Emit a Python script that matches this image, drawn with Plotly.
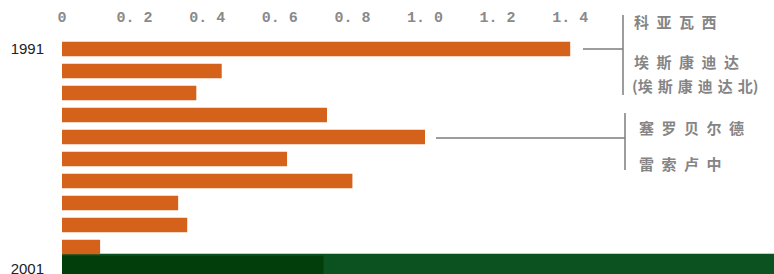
import plotly.graph_objects as go

# ---- data ----
years = ["1991", "1992", "1993", "1994", "1995", "1996", "1997", "1998", "1999", "2000", "2001"]
values = [1.40, 0.44, 0.37, 0.73, 1.00, 0.62, 0.80, 0.32, 0.345, 0.105, 0.72]
x_ticks = [0, 0.2, 0.4, 0.6, 0.8, 1.0, 1.2, 1.4]
x_tick_labels = ["0", "0. 2", "0. 4", "0. 6", "0. 8", "1. 0", "1. 2", "1. 4"]
y_tick_labels = ["1991", "2001"]
group1 = ["科\u2002亚\u2002瓦\u2002西", "埃\u2002斯\u2002康\u2002迪\u2002达",
          "(埃\u2004斯\u2004康\u2004迪\u2004达\u2004北)"]
group2 = ["塞\u2002罗\u2002贝\u2002尔\u2002德", "雷\u2002索\u2002卢\u2002中"]

# ---- styles ----
W, H = 774, 274
L, T = 62, 38
bar_color = "#d4621b"
colors = [bar_color] * 10 + ["#023d0c"]
widths = [0.66] * 10 + [1.2]
gray = "#7d7d7d"
text_gray = "#858585"

def px(xp):
    return (xp - L) / (W - L)

def py(yp):
    return (H - yp) / (H - T)

fig = go.Figure(go.Bar(
    x=values, y=years, orientation="h",
    marker=dict(color=colors, line=dict(width=0)),
    width=widths, hoverinfo="skip",
))

shapes = []
# band at the bottom
shapes.append(dict(type="rect", xref="paper", yref="paper", x0=0, x1=1,
                   y0=0, y1=py(254), fillcolor="#0b5220", line=dict(width=0), layer="below"))
shapes.append(dict(type="line", xref="paper", yref="paper", x0=0, x1=1,
                   y0=py(253.5), y1=py(253.5), line=dict(color="#a9d9d2", width=1), layer="below"))
# bracket 1
shapes.append(dict(type="line", xref="paper", yref="paper", x0=px(583), x1=px(623),
                   y0=py(49), y1=py(49), line=dict(color=gray, width=1.5)))
shapes.append(dict(type="line", xref="paper", yref="paper", x0=px(623), x1=px(623),
                   y0=py(15), y1=py(95), line=dict(color=gray, width=1.5)))
# bracket 2
shapes.append(dict(type="line", xref="paper", yref="paper", x0=px(436), x1=px(625),
                   y0=py(138), y1=py(138), line=dict(color=gray, width=1.5)))
shapes.append(dict(type="line", xref="paper", yref="paper", x0=px(625), x1=px(625),
                   y0=py(113), y1=py(170), line=dict(color=gray, width=1.5)))

annotations = []
cjk = dict(family="Noto Sans CJK SC", size=15, color=text_gray, weight="bold")
for txt, xx, yy in zip(group1, [632, 632, 630], [22, 62, 85]):
    annotations.append(dict(text=txt, xref="paper", yref="paper", x=px(xx), y=py(yy),
                            xanchor="left", yanchor="middle", showarrow=False, font=cjk))
for txt, xx, yy in zip(group2, [637, 637], [127, 163]):
    annotations.append(dict(text=txt, xref="paper", yref="paper", x=px(xx), y=py(yy),
                            xanchor="left", yanchor="middle", showarrow=False, font=cjk))

fig.update_layout(
    width=W, height=H,
    margin=dict(l=L, r=0, t=T, b=0, pad=0, autoexpand=False),
    paper_bgcolor="white", plot_bgcolor="white",
    showlegend=False,
    bargap=0.34,
    shapes=shapes,
    annotations=annotations,
    xaxis=dict(side="top", range=[0, (W - L) / 363.0], tickvals=x_ticks, ticktext=x_tick_labels,
               showgrid=False, zeroline=False, showline=False, automargin=False,
               ticks="outside", ticklen=9, tickcolor="rgba(0,0,0,0)",
               tickfont=dict(family="Liberation Mono", size=15, color="#8a8a8a", weight="bold")),
    yaxis=dict(type="category", range=[-0.5 + (H - T) / 22.0, -0.5],
               tickvals=y_tick_labels, ticktext=y_tick_labels,
               showgrid=False, zeroline=False, showline=False, automargin=False,
               ticks="outside", ticklen=14, tickcolor="rgba(0,0,0,0)",
               tickfont=dict(family="Liberation Sans", size=15, color="#222")),
)

fig.write_html("out.html", config={"displayModeBar": False},
               post_script="document.body.style.margin='0';document.body.style.overflow='hidden';")
